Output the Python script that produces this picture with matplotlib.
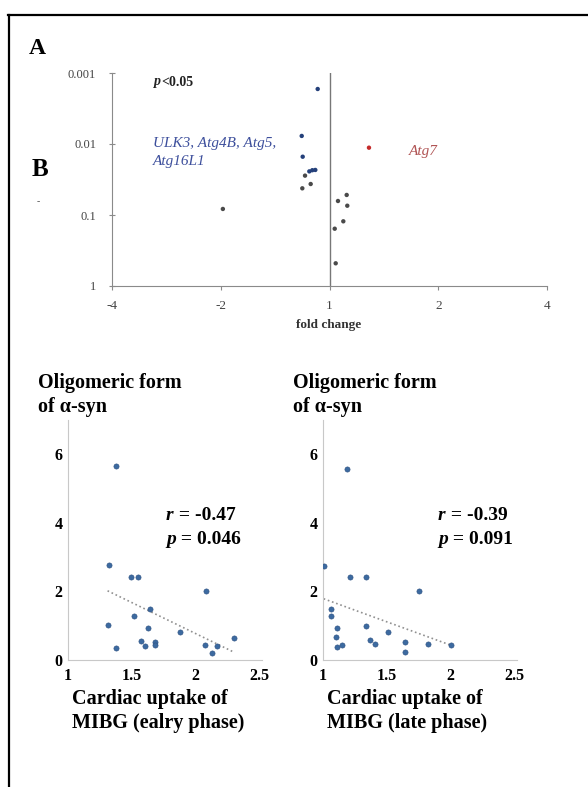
import numpy as np
import matplotlib
matplotlib.use("Agg")
import matplotlib.pyplot as plt
from matplotlib.lines import Line2D

# panel A: volcano-like plot
fold_x = [-0.217, -0.511, -0.493, -0.371, -0.316, -0.261,
          -0.450, -0.500, -0.346, -1.961,
          0.316, 0.156, 0.327, 0.254, 0.096, 0.114,
          0.726]
p_vals = [0.00168, 0.0077, 0.0151, 0.0243, 0.0234, 0.0232,
          0.0279, 0.0421, 0.0366, 0.0822,
          0.0522, 0.0635, 0.0740, 0.1227, 0.156, 0.479,
          0.01127]
groups = ["blue"] * 6 + ["gray"] * 10 + ["red"]
fold_ticks = [-4, -2, 0, 2, 4]
fold_labels = ["-4", "-2", "1", "2", "4"]
p_ticks = [0.001, 0.01, 0.1, 1]
p_labels = ["0.001", "0.01", "0.1", "1"]

# panel B: MIBG vs oligomeric a-syn
early_x = [1.38, 1.32, 1.49, 1.55, 2.08, 1.64, 1.52, 1.31, 1.63, 1.88,
           2.30, 1.57, 1.60, 1.68, 1.68, 2.07, 2.17, 1.38, 2.13]
early_y = [5.65, 2.76, 2.43, 2.43, 2.02, 1.48, 1.27, 1.01, 0.92, 0.82,
           0.65, 0.56, 0.42, 0.52, 0.45, 0.44, 0.42, 0.35, 0.21]
late_x = [1.185, 1.005, 1.21, 1.34, 1.75, 1.06, 1.06, 1.11, 1.34, 1.51,
          1.10, 1.37, 1.41, 1.64, 1.64, 1.82, 2.00, 1.11, 1.15]
late_y = [5.57, 2.74, 2.41, 2.41, 2.01, 1.48, 1.28, 0.92, 1.00, 0.83,
          0.66, 0.57, 0.46, 0.53, 0.23, 0.46, 0.44, 0.37, 0.44]
mibg_ticks = [1, 1.5, 2, 2.5]
mibg_labels = ["1", "1.5", "2", "2.5"]
syn_ticks = [0, 2, 4, 6]

W, H = 588, 787
SERIF = "Liberation Serif"
plt.rcParams["font.family"] = SERIF


def fx(px):
    return px / W


def fy(py):
    return 1 - py / H


fig = plt.figure(figsize=(W / 100, H / 100), dpi=100)

# frame lines of the figure
fig.add_artist(Line2D([fx(8), 1], [fy(14.5), fy(14.5)], color="black", lw=1.6))
fig.add_artist(Line2D([fx(8.5), fx(8.5)], [fy(14.5), 0], color="black", lw=1.6))

fig.text(fx(29), fy(49), "A", fontsize=17, fontweight="bold", va="center")
fig.text(fx(32), fy(170), "B", fontsize=18, fontweight="bold", va="center")
fig.text(fx(37), fy(202), "-", fontsize=7, color="#555", va="center")

# ---- panel A
axA = fig.add_axes([fx(112), fy(286), (547 - 112) / W, 213 / H])
axA.set_yscale("log")
axA.set_xlim(-4, 4)
axA.set_ylim(1, 0.001)
colors = {"blue": "#24407a", "gray": "#4a4a4a", "red": "#c42a2a"}
axA.scatter(fold_x, p_vals, s=10, c=[colors[g] for g in groups], linewidths=0, zorder=3)
axA.axvline(0, color="#777777", lw=1)
axA.set_xticks(fold_ticks)
axA.set_xticklabels(fold_labels)
axA.set_yticks(p_ticks)
axA.set_yticklabels(p_labels)
axA.minorticks_off()
for s in ["top", "right"]:
    axA.spines[s].set_visible(False)
for s in ["left", "bottom"]:
    axA.spines[s].set_color("#8a8a8a")
axA.tick_params(axis="x", direction="out", length=3, color="#8a8a8a", pad=7,
                labelsize=9.5, labelcolor="#444444")
axA.tick_params(axis="y", direction="inout", length=5, color="#8a8a8a", pad=9,
                labelsize=9, labelcolor="#444444")

fig.text(fx(329), fy(325), "fold change", fontsize=9.5, fontweight="bold",
         color="#333333", ha="center", va="center")
t_p = fig.text(fx(154), fy(82), "p", fontsize=10, fontstyle="italic",
               fontweight="bold", va="center", color="#222222")
axA.annotate("<0.05", xy=(1, 0), xycoords=t_p, va="bottom", ha="left",
             fontsize=10, fontweight="bold", color="#222222")
fig.text(fx(153), fy(143), "ULK3, Atg4B, Atg5,", fontsize=11, fontstyle="italic",
         color="#3d4f9c", va="center")
fig.text(fx(153), fy(162), "Atg16L1", fontsize=11, fontstyle="italic",
         color="#3d4f9c", va="center")
fig.text(fx(409), fy(152), "Atg7", fontsize=11, fontstyle="italic",
         color="#b05454", va="center")


# ---- panel B
def panel(left_px, xs, ys, r_txt, p_txt, phase):
    ax = fig.add_axes([fx(left_px), fy(660), 194 / W, 240 / H])
    ax.set_xlim(1, 2.52)
    ax.set_ylim(0, 7)
    ax.scatter(xs, ys, s=14, color="#3c6aa0", edgecolors="#2d5080",
               linewidths=0.4, zorder=3)
    k, b = np.polyfit(xs, ys, 1)
    xl = np.array([min(xs), max(xs)])
    ax.plot(xl, k * xl + b, ls=":", color="#909090", lw=1.2)
    ax.set_xticks(mibg_ticks)
    ax.set_xticklabels(mibg_labels)
    ax.set_yticks(syn_ticks)
    for s in ["top", "right"]:
        ax.spines[s].set_visible(False)
    for s in ["left", "bottom"]:
        ax.spines[s].set_color("#c8c8c8")
    ax.tick_params(length=0, labelsize=11.5)
    ax.tick_params(axis="x", pad=6)
    ax.tick_params(axis="y", pad=4)
    for lab in ax.get_xticklabels() + ax.get_yticklabels():
        lab.set_fontweight("bold")

    tx = left_px - 30
    fig.text(fx(tx), fy(383), "Oligomeric form", fontsize=14.5, fontweight="bold", va="center")
    fig.text(fx(tx), fy(407), "of \u03b1-syn", fontsize=14.5, fontweight="bold", va="center")
    fig.text(fx(left_px + 4), fy(699), "Cardiac uptake of", fontsize=14.5,
             fontweight="bold", va="center")
    fig.text(fx(left_px + 4), fy(723), "MIBG (" + phase + ")", fontsize=14.5,
             fontweight="bold", va="center")

    sx = left_px + 98 if left_px < 200 else left_px + 115
    for row, (sym, val) in enumerate([("r", r_txt), ("p", p_txt)]):
        t = fig.text(fx(sx), fy(515 + 24 * row), sym, fontsize=14, fontstyle="italic",
                     fontweight="bold", va="center")
        ax.annotate(" = " + val, xy=(1, 0), xycoords=t, va="bottom", ha="left",
                    fontsize=14, fontweight="bold")
    return ax


panel(68, early_x, early_y, "-0.47", "0.046", "ealry phase")
panel(323, late_x, late_y, "-0.39", "0.091", "late phase")

fig.savefig("out.png", dpi=100)
